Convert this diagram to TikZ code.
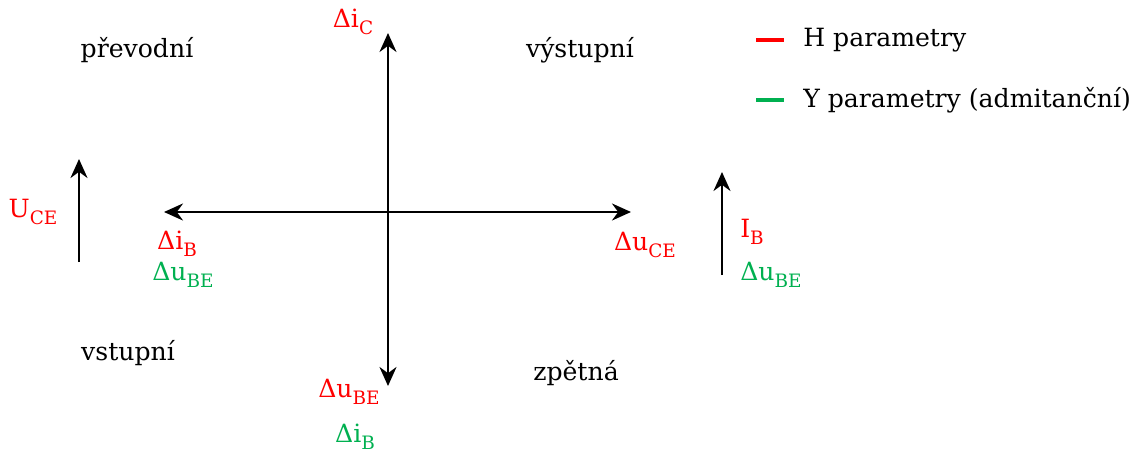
\documentclass[tikz,border=0pt]{standalone}
\usepackage{fontspec}
\setmainfont{DejaVu Serif}
\usepackage{tikz}
\usetikzlibrary{arrows.meta, positioning}

\definecolor{hred}{RGB}{255,0,0}
\definecolor{ygreen}{RGB}{0,176,80}
\newcommand{\idx}[1]{\raisebox{-0.5ex}{\fontsize{10.5}{11}\selectfont #1}}

\begin{document}
\begin{tikzpicture}[x=0.02cm, y=-0.02cm,
    axis/.style={{Stealth[length=3.8mm, width=3.4mm]}-{Stealth[length=3.8mm, width=3.4mm]}, line width=1.35pt},
    small arrow/.style={-{Stealth[length=3.8mm, width=3.4mm]}, line width=1.35pt},
    region/.style={font=\fontsize{14.3}{16}\selectfont, text=black, inner sep=0pt},
    hlabel/.style={font=\fontsize{14.3}{16}\selectfont, text=hred, inner sep=0pt},
    ylabel/.style={font=\fontsize{14.3}{16}\selectfont, text=ygreen, inner sep=0pt},
    legend/.style={font=\fontsize{14.3}{16}\selectfont, anchor=west, inner sep=0pt}
]
\useasboundingbox (0,0) rectangle (1134,453);

% axes
\coordinate (top) at (388,33);
\coordinate (bottom) at (388,386);
\coordinate (left) at (164,212);
\coordinate (right) at (631,212);
\draw[axis] (bottom) -- (top);
\draw[axis] (left) -- (right);

% side arrows
\coordinate (ucefoot) at (79,262);
\coordinate (ucetip) at (79,159);
\coordinate (ibfoot) at (722,275);
\coordinate (ibtip) at (722,172);
\draw[small arrow] (ucefoot) -- (ucetip);
\draw[small arrow] (ibfoot) -- (ibtip);

% quadrant names
\node[region] (prevodni) at (137,50) {převodní};
\node[region] (vystupni) at (580,50) {výstupní};
\node[region] (vstupni) at (128,353) {vstupní};
\node[region] (zpetna) at (576,373) {zpětná};

% axis labels
\node[hlabel] (dic) at (353,22) {Δi\idx{C}};
\node[hlabel] (duce) at (645,245) {Δu\idx{CE}};
\node[hlabel] (dib) at (177,244) {Δi\idx{B}};
\node[ylabel] (dube) at (183,275) {Δu\idx{BE}};
\node[hlabel] (dubeb) at (349,392) {Δu\idx{BE}};
\node[ylabel] (dibb) at (355,437) {Δi\idx{B}};
\node[hlabel] (uce) at (33,212) {U\idx{CE}};
\node[hlabel] (ib) at (752,232) {I\idx{B}};
\node[ylabel] (duber) at (771,275) {Δu\idx{BE}};

% legend
\node[legend] (hpar) at (803,40) {H parametry};
\node[legend] (ypar) at (803,100) {Y parametry (admitanční)};
\draw[hred, line width=2.2pt] ([xshift=-11]hpar.west) -- ++(-28,0);
\draw[ygreen, line width=2.2pt] ([xshift=-11]ypar.west) -- ++(-28,0);

\end{tikzpicture}
\end{document}
